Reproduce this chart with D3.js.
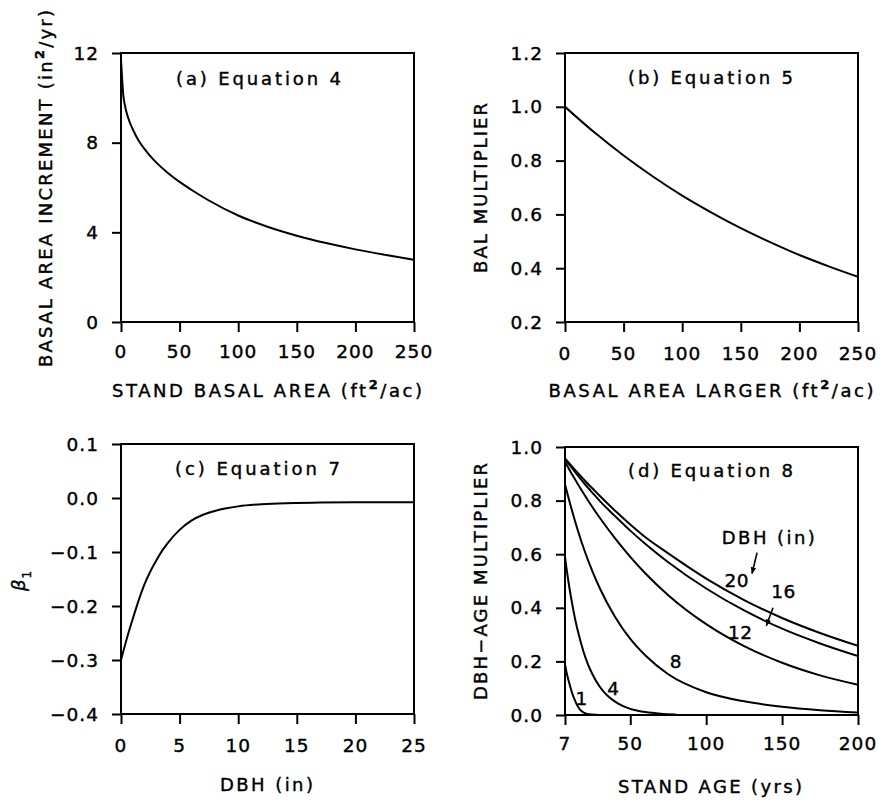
<!DOCTYPE html>
<html><head><meta charset="utf-8">
<script src="https://cdn.jsdelivr.net/npm/d3@7/dist/d3.min.js"></script>
<style>
body{margin:0;background:#fff}
svg{display:block}
text{font-family:"DejaVu Sans",sans-serif;fill:#000;stroke:#000;stroke-width:0.4px}
</style>
</head><body>
<svg id="chart" width="880" height="801"></svg>
<script>
// ---------- data ----------
// (a) Equation 4
const aStandBasalArea = [0, 1, 2, 3, 5, 7.5, 10, 15, 20, 25, 30, 40, 50, 60, 75, 100, 125, 150, 175, 200, 225, 250];
const aBasalIncrement = [11.7, 10.8, 10.1, 9.75, 9.3, 8.9, 8.6, 8.1, 7.72, 7.4, 7.12, 6.65, 6.25, 5.9, 5.42, 4.75, 4.25, 3.85, 3.52, 3.24, 3.0, 2.78];
// (b) Equation 5
const bBasalAreaLarger = [0, 25, 50, 75, 100, 125, 150, 175, 200, 225, 250];
const bBalMultiplier = [1.0, 0.905, 0.819, 0.741, 0.670, 0.607, 0.549, 0.497, 0.449, 0.407, 0.368];
// (c) Equation 7
const cDbh = [0, 0.5, 1, 1.5, 2, 2.5, 3, 3.5, 4, 5, 6, 7, 8, 9, 10, 12, 14, 17, 20, 25];
const cBeta1 = [-0.300, -0.260, -0.224, -0.190, -0.160, -0.136, -0.116, -0.098, -0.083, -0.059, -0.042, -0.031, -0.024, -0.019, -0.0155, -0.0115, -0.0095, -0.0085, -0.008, -0.008];
// (d) Equation 8 : one series per DBH class
const dAge1 = [7, 8, 9, 10, 11, 12, 13, 14, 16, 18, 21, 25, 30, 40];
const dMult1 = [0.19, 0.16, 0.136, 0.115, 0.095, 0.077, 0.062, 0.048, 0.027, 0.014, 0.005, 0.0015, 0.0003, 0];
const dAge4 = [7, 8, 9, 10, 12, 14, 16, 19, 22, 25, 28, 32, 36, 40, 45, 50, 55, 60, 70, 80];
const dMult4 = [0.59, 0.547, 0.508, 0.471, 0.406, 0.349, 0.301, 0.240, 0.191, 0.153, 0.122, 0.090, 0.067, 0.050, 0.034, 0.023, 0.016, 0.011, 0.005, 0.002];
const dAge8 = [7, 10, 15, 20, 25, 30, 40, 50, 60, 75, 100, 125, 150, 175, 200];
const dMult8 = [0.86, 0.796, 0.697, 0.611, 0.537, 0.472, 0.366, 0.284, 0.222, 0.152, 0.085, 0.051, 0.031, 0.018, 0.009];
const dAgeLarge = [7, 10, 15, 20, 25, 30, 40, 50, 60, 75, 100, 125, 150, 175, 200];
const dMult12 = [0.945, 0.914, 0.866, 0.820, 0.776, 0.735, 0.659, 0.590, 0.528, 0.447, 0.339, 0.257, 0.195, 0.148, 0.113];
const dMult16 = [0.955, 0.933, 0.897, 0.862, 0.830, 0.798, 0.742, 0.688, 0.638, 0.570, 0.472, 0.390, 0.322, 0.267, 0.220];
const dMult20 = [0.957, 0.938, 0.906, 0.875, 0.846, 0.817, 0.762, 0.711, 0.663, 0.603, 0.509, 0.429, 0.362, 0.306, 0.258];
const dDbhClasses = ["1", "4", "8", "12", "16", "20"];

// tick values
const aXTicks = [0, 50, 100, 150, 200, 250], aYTicks = [0, 4, 8, 12];
const bXTicks = [0, 50, 100, 150, 200, 250], bYTicks = [0.2, 0.4, 0.6, 0.8, 1.0, 1.2];
const cXTicks = [0, 5, 10, 15, 20, 25], cYTicks = [-0.4, -0.3, -0.2, -0.1, 0.0, 0.1];
const dXTicks = [7, 50, 100, 150, 200], dYTicks = [0.0, 0.2, 0.4, 0.6, 0.8, 1.0];

// ---------- drawing ----------
const svg = d3.select("#chart");
svg.append("rect").attr("width", 880).attr("height", 801).attr("fill", "#fff");
const defs = svg.append("defs");
defs.append("marker").attr("id", "arr").attr("viewBox", "0 0 10 10")
  .attr("refX", 9).attr("refY", 5).attr("markerWidth", 7).attr("markerHeight", 7)
  .attr("markerUnits", "userSpaceOnUse").attr("orient", "auto")
  .append("path").attr("d", "M0,1 L10,5 L0,9 Z").attr("fill", "#000");

const minus = s => s.replace("-", "\u2212");
const f1 = d => minus(d.toFixed(1));

function addTitle(g, x, y, parts, len, rotate) {
  const t = g.append("text").attr("font-size", 18)
    .attr("text-anchor", "middle")
    .attr("transform", `translate(${x},${y})` + (rotate ? " rotate(-90)" : ""));
  parts.forEach(p => {
    const ts = t.append("tspan").text(p.t);
    if (p.sup) ts.attr("font-size", 13).attr("font-weight", "bold").attr("dy", -8);
    if (p.after) ts.attr("dy", 8);
  });
  if (len) t.attr("textLength", len).attr("lengthAdjust", "spacing");
  return t;
}

function panel(cfg) {
  const g = svg.append("g");
  const x = d3.scaleLinear().domain(cfg.xDomain).range([cfg.x0, cfg.x1]);
  const y = d3.scaleLinear().domain(cfg.yDomain).range([cfg.y1, cfg.y0]);
  const clipId = "clip" + cfg.id;
  defs.append("clipPath").attr("id", clipId).append("rect")
    .attr("x", cfg.x0).attr("y", cfg.y0).attr("width", cfg.x1 - cfg.x0).attr("height", cfg.y1 - cfg.y0);

  const xa = g.append("g").attr("transform", `translate(0,${cfg.y1})`)
    .call(d3.axisBottom(x).tickValues(cfg.xTicks).tickSize(10).tickSizeOuter(0).tickFormat(""));
  const ya = g.append("g").attr("transform", `translate(${cfg.x0},0)`)
    .call(d3.axisLeft(y).tickValues(cfg.yTicks).tickSize(9).tickSizeOuter(0).tickFormat(""));
  [xa, ya].forEach(a => {
    a.select(".domain").remove();
    a.selectAll(".tick line").attr("stroke", "#000").attr("stroke-width", 2);
  });
  g.selectAll(".xl").data(cfg.xTicks).join("text")
    .attr("x", d => x(d)).attr("y", cfg.y1 + cfg.xLabOff)
    .attr("text-anchor", "middle").attr("font-size", 18.5).attr("letter-spacing", 1)
    .text(cfg.xFmt);
  g.selectAll(".yl").data(cfg.yTicks).join("text")
    .attr("x", cfg.x0 - 22).attr("y", d => y(d)).attr("dy", "0.36em")
    .attr("text-anchor", "end").attr("font-size", 18.5).attr("letter-spacing", 1)
    .text(cfg.yFmt);
  g.append("rect").attr("x", cfg.x0).attr("y", cfg.y0)
    .attr("width", cfg.x1 - cfg.x0).attr("height", cfg.y1 - cfg.y0)
    .attr("fill", "none").attr("stroke", "#000").attr("stroke-width", 2);
  const line = d3.line().x(d => x(d[0])).y(d => y(d[1])).curve(d3.curveMonotoneX);
  g.append("g").attr("clip-path", `url(#${clipId})`)
    .selectAll("path").data(cfg.series).join("path")
    .attr("d", s => line(d3.zip(s.xs, s.ys)))
    .attr("fill", "none").attr("stroke", "#000").attr("stroke-width", 2)
    .attr("stroke-linejoin", "round");
  addTitle(g, cfg.labX, cfg.labY, [{t: cfg.label}], 165);
  return {g, x, y};
}

// (a)
const pa = panel({id: "a", x0: 121, x1: 414, y0: 53, y1: 322, xDomain: [0, 250], yDomain: [0, 12],
  xTicks: aXTicks, yTicks: aYTicks, xFmt: d => d, yFmt: d => d, xLabOff: 36,
  series: [{xs: aStandBasalArea, ys: aBasalIncrement}],
  label: "(a)  Equation  4", labX: 258.5, labY: 85});
addTitle(pa.g, 267, 396.5, [{t: "STAND BASAL AREA (ft"}, {t: "2", sup: true}, {t: "/ac)", after: true}], 310);
addTitle(pa.g, 52, 188.5, [{t: "BASAL AREA INCREMENT (in"}, {t: "2", sup: true}, {t: "/yr)", after: true}], 357, true);

// (b)
const pb = panel({id: "b", x0: 565, x1: 858, y0: 53, y1: 322, xDomain: [0, 250], yDomain: [0.2, 1.2],
  xTicks: bXTicks, yTicks: bYTicks, xFmt: d => d, yFmt: f1, xLabOff: 38,
  series: [{xs: bBasalAreaLarger, ys: bBalMultiplier}],
  label: "(b)  Equation  5", labX: 710.5, labY: 83.5});
addTitle(pb.g, 711, 396.5, [{t: "BASAL AREA LARGER (ft"}, {t: "2", sup: true}, {t: "/ac)", after: true}], 325);
addTitle(pb.g, 487, 188, [{t: "BAL MULTIPLIER"}], 170, true);

// (c)
const pc = panel({id: "c", x0: 121, x1: 414, y0: 444, y1: 714, xDomain: [0, 25], yDomain: [-0.4, 0.1],
  xTicks: cXTicks, yTicks: cYTicks, xFmt: d => d, yFmt: f1, xLabOff: 37.5,
  series: [{xs: cDbh, ys: cBeta1}],
  label: "(c)  Equation  7", labX: 257.5, labY: 475});
addTitle(pc.g, 266.5, 791, [{t: "DBH (in)"}], 93);
{
  const t = pc.g.append("text").attr("font-size", 18).attr("text-anchor", "middle")
    .attr("transform", "translate(25,581) rotate(-90)");
  t.append("tspan").attr("font-style", "italic").text("\u03b2");
  t.append("tspan").attr("font-size", 12).attr("dy", 6).attr("dx", 1).text("1");
}

// (d)
const pd = panel({id: "d", x0: 565, x1: 858, y0: 447, y1: 715, xDomain: [7, 200], yDomain: [0, 1],
  xTicks: dXTicks, yTicks: dYTicks, xFmt: d => d, yFmt: f1, xLabOff: 35,
  series: [
    {xs: dAge1, ys: dMult1}, {xs: dAge4, ys: dMult4}, {xs: dAge8, ys: dMult8},
    {xs: dAgeLarge, ys: dMult12}, {xs: dAgeLarge, ys: dMult16}, {xs: dAgeLarge, ys: dMult20}],
  label: "(d)  Equation  8", labX: 710.5, labY: 476.5});
addTitle(pd.g, 710, 793, [{t: "STAND AGE (yrs)"}], 184);
addTitle(pd.g, 487, 581.5, [{t: "DBH\u2212AGE MULTIPLIER"}], 237, true);

const dLabelAge = [18, 38.8, 80, 122.4, 151, 120.2];
const dLabelMult = [0.062, 0.1, 0.199, 0.31, 0.46, 0.503];
pd.g.selectAll(".cl").data(dDbhClasses).join("text")
  .attr("x", (d, i) => pd.x(dLabelAge[i])).attr("y", (d, i) => pd.y(dLabelMult[i]))
  .attr("dy", "0.36em").attr("text-anchor", "middle").attr("font-size", 18.5).attr("letter-spacing", 0.5)
  .text(d => d);
addTitle(pd.g, 768.3, 543.5, [{t: "DBH (in)"}], 93);
const arrowFromAge = [133.5, 144], arrowFromMult = [0.606, 0.4];
const arrowToAge = [130.2, 139.6], arrowToMult = [0.528, 0.333];
pd.g.selectAll(".ar").data(arrowFromAge).join("line")
  .attr("x1", (d, i) => pd.x(arrowFromAge[i])).attr("y1", (d, i) => pd.y(arrowFromMult[i]))
  .attr("x2", (d, i) => pd.x(arrowToAge[i])).attr("y2", (d, i) => pd.y(arrowToMult[i]))
  .attr("stroke", "#000").attr("stroke-width", 1.6).attr("marker-end", "url(#arr)");
</script>
</body></html>
